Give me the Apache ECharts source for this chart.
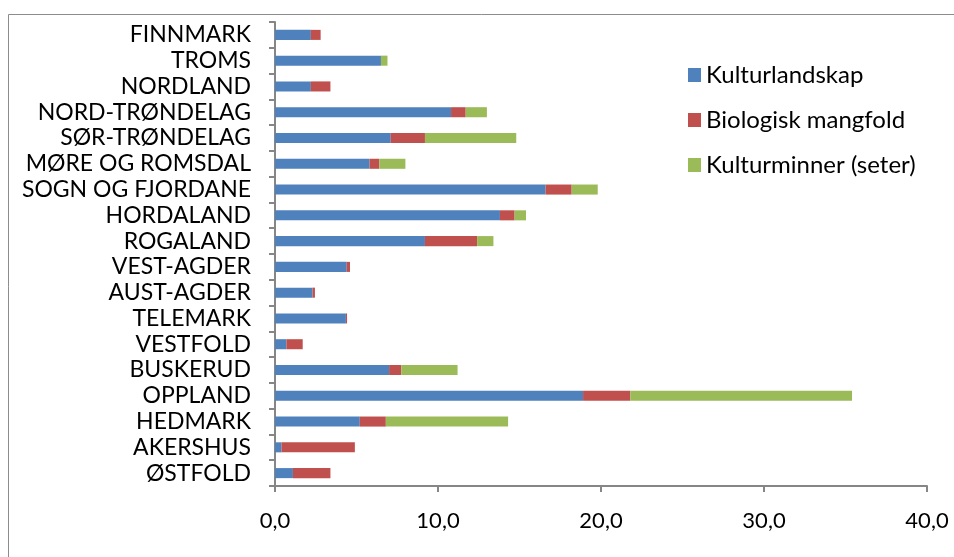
<!DOCTYPE html>
<html>
<head>
<meta charset="utf-8">
<script src="https://cdn.jsdelivr.net/npm/echarts@6/dist/echarts.min.js"></script>
<style>
    html, body { margin: 0; padding: 0; background: #fff; }
    #chart { width: 954px; height: 557px; }
</style>
</head>
<body>
<div id="chart"></div>
<script>
// fylker, bottom to top as in the chart
var counties = ['ØSTFOLD', 'AKERSHUS', 'HEDMARK', 'OPPLAND', 'BUSKERUD', 'VESTFOLD', 'TELEMARK',
    'AUST-AGDER', 'VEST-AGDER', 'ROGALAND', 'HORDALAND', 'SOGN OG FJORDANE', 'MØRE OG ROMSDAL',
    'SØR-TRØNDELAG', 'NORD-TRØNDELAG', 'NORDLAND', 'TROMS', 'FINNMARK'];

var kulturlandskap = [1.1, 0.4, 5.2, 18.9, 7.0, 0.7, 4.35, 2.3, 4.4, 9.2, 13.8, 16.6, 5.8, 7.1, 10.8, 2.2, 6.5, 2.2];
var biologisk = [2.3, 4.5, 1.6, 2.9, 0.75, 1.0, 0.07, 0.15, 0.2, 3.2, 0.9, 1.6, 0.6, 2.1, 0.9, 1.2, 0, 0.6];
var kulturminner = [0, 0, 7.5, 13.6, 3.45, 0, 0, 0, 0, 1.0, 0.7, 1.6, 1.6, 5.6, 1.3, 0, 0.4, 0];

var xTicks = [0, 10, 20, 30, 40];

var font = 'Lato, "Open Sans", sans-serif';
var axisGrey = '#868686';

var chart = echarts.init(document.getElementById('chart'));

function barSeries(name, data, color) {
    return {
        name: name,
        type: 'bar',
        stack: 'total',
        data: data,
        barCategoryGap: '61%',
        itemStyle: { color: color },
        emphasis: { disabled: true }
    };
}

chart.setOption({
    animation: false,
    textStyle: { fontFamily: font },
    graphic: [{
        type: 'rect',
        shape: { x: 8.5, y: 14.5, width: 1000, height: 600 },
        style: { fill: 'none', stroke: '#8c8c8c', lineWidth: 1 }
    }],
    legend: {
        orient: 'vertical',
        left: 683,
        top: 58,
        itemWidth: 13,
        itemHeight: 14,
        itemGap: 21,
        icon: 'rect',
        textStyle: { fontSize: 24, lineHeight: 20, color: '#000', fontFamily: font },
        data: ['Kulturlandskap', 'Biologisk mangfold', 'Kulturminner (seter)']
    },
    grid: { left: 275, right: 27, top: 22, bottom: 71, containLabel: false },
    xAxis: {
        type: 'value',
        min: xTicks[0],
        max: xTicks[xTicks.length - 1],
        interval: 10,
        axisLine: { show: true, lineStyle: { color: axisGrey, width: 2 } },
        axisTick: { show: true, length: 6, lineStyle: { color: axisGrey, width: 2 } },
        splitLine: { show: false },
        axisLabel: {
            fontSize: 22, color: '#000', margin: 24, fontFamily: font,
            formatter: function(v) { return v.toFixed(1).replace('.', ','); }
        }
    },
    yAxis: {
        type: 'category',
        data: counties,
        axisLine: { show: true, lineStyle: { color: axisGrey, width: 2 } },
        axisTick: { show: true, length: 6, lineStyle: { color: axisGrey, width: 2 } },
        axisLabel: { interval: 0, fontSize: 23, lineHeight: 20, color: '#000', margin: 24, fontFamily: font }
    },
    series: [
        barSeries('Kulturlandskap', kulturlandskap, '#4F81BD'),
        barSeries('Biologisk mangfold', biologisk, '#C0504D'),
        barSeries('Kulturminner (seter)', kulturminner, '#9BBB59')
    ]
});
</script>
</body>
</html>
